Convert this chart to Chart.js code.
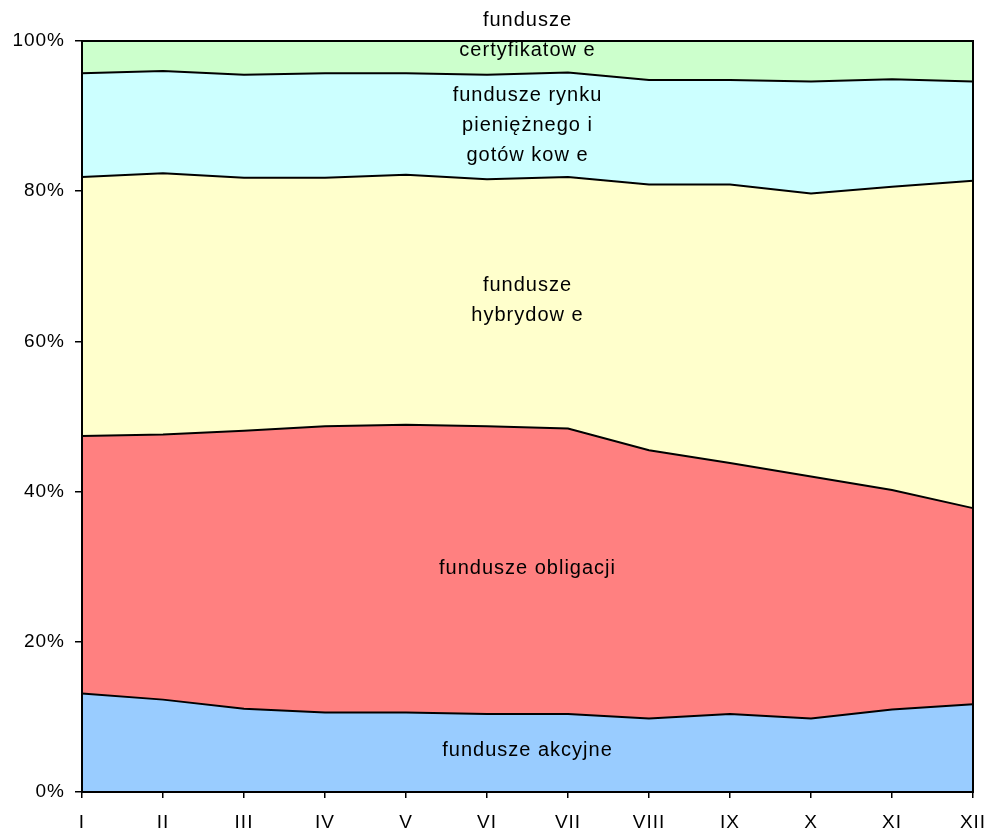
<!DOCTYPE html>
<html>
<head>
<meta charset="utf-8">
<script src="https://cdn.jsdelivr.net/npm/chart.js@4"></script>
<style>
    html, body { margin: 0; padding: 0; background: #fff; }
    #wrap { width: 988px; height: 831px; }
</style>
</head>
<body>
<div id="wrap"><canvas id="fundChart"></canvas></div>
<script>
// months
const months = ['I', 'II', 'III', 'IV', 'V', 'VI', 'VII', 'VIII', 'IX', 'X', 'XI', 'XII'];

// shares of each fund type, % of total
const akcyjne = [13.1, 12.3, 11.1, 10.6, 10.6, 10.4, 10.4, 9.8, 10.4, 9.8, 11.0, 11.7];
const obligacji = [34.3, 35.3, 37.0, 38.1, 38.3, 38.3, 38.0, 35.7, 33.4, 32.2, 29.2, 26.1];
const hybrydowe = [34.5, 34.8, 33.7, 33.1, 33.3, 32.9, 33.5, 35.4, 37.1, 37.7, 40.4, 43.6];
const rynkuPienieznego = [13.8, 13.6, 13.7, 13.9, 13.5, 13.9, 13.9, 13.9, 13.9, 14.9, 14.3, 13.2];
const certyfikatowe = [4.3, 4.0, 4.5, 4.3, 4.3, 4.5, 4.2, 5.2, 5.2, 5.4, 5.1, 5.4];

const yTicks = [0, 20, 40, 60, 80, 100];

const FONT_FAMILY = '"Liberation Sans", Arial, sans-serif';
const LABEL_SIZE = 20;

// in-chart series labels: lines of text and where they sit (category index, percent)
const areaLabels = [
    { lines: ['fundusze akcyjne'], x: 5.5, y: 5.5 },
    { lines: ['fundusze obligacji'], x: 5.5, y: 29.7 },
    { lines: ['fundusze', 'hybrydow e'], x: 5.5, y: 67.5 },
    { lines: ['fundusze rynku', 'pieniężnego i', 'gotów kow e'], x: 5.5, y: 92.7 },
    { lines: ['fundusze', 'certyfikatow e'], x: 5.5, y: 102.7 },
];

function makeSeries(label, values, color, fill) {
    return {
        label: label,
        data: values,
        backgroundColor: color,
        borderColor: '#000',
        borderWidth: 2,
        pointRadius: 0,
        tension: 0,
        fill: fill,
    };
}

const areaLabelsPlugin = {
    id: 'areaLabels',
    beforeDraw(chart) {
        chart.ctx.letterSpacing = '1px';
    },
    afterDatasetsDraw(chart) {
        const { ctx, scales } = chart;
        const area = chart.chartArea;
        // frame round the plot
        ctx.save();
        ctx.strokeStyle = '#000';
        ctx.lineWidth = 2;
        ctx.strokeRect(area.left, area.top, area.right - area.left, area.bottom - area.top);
        ctx.restore();

        ctx.save();
        ctx.letterSpacing = '1px';
        ctx.fillStyle = '#000';
        ctx.font = LABEL_SIZE + 'px ' + FONT_FAMILY;
        ctx.textAlign = 'center';
        ctx.textBaseline = 'middle';
        const lineGap = 30;
        areaLabels.forEach((lbl) => {
            const px = scales.x.getPixelForValue(lbl.x);
            const py = scales.y.getPixelForValue(lbl.y);
            lbl.lines.forEach((line, i) => {
                ctx.fillText(line, px, py + i * lineGap);
            });
        });
        ctx.restore();
    },
};

Chart.defaults.font.family = FONT_FAMILY;
Chart.defaults.font.size = 19;
Chart.defaults.color = '#000';

new Chart(document.getElementById('fundChart').getContext('2d'), {
    type: 'line',
    data: {
        labels: months,
        datasets: [
            makeSeries('fundusze akcyjne', akcyjne, '#99CCFF', 'origin'),
            makeSeries('fundusze obligacji', obligacji, '#FF8080', '-1'),
            makeSeries('fundusze hybrydowe', hybrydowe, '#FFFFCC', '-1'),
            makeSeries('fundusze rynku pieniężnego i gotówkowe', rynkuPienieznego, '#CCFFFF', '-1'),
            makeSeries('fundusze certyfikatowe', certyfikatowe, '#CCFFCC', '-1'),
        ],
    },
    options: {
        responsive: true,
        maintainAspectRatio: false,
        animation: false,
        layout: {
            padding: { top: 41, right: 15, left: 0, bottom: 0 },
        },
        plugins: {
            legend: { display: false },
            tooltip: { enabled: false },
            filler: { drawTime: 'beforeDatasetsDraw' },
        },
        scales: {
            x: {
                offset: false,
                grid: {
                    display: true,
                    drawOnChartArea: false,
                    tickLength: 6,
                    color: '#000',
                    lineWidth: 1.5,
                },
                border: { color: '#000', width: 2 },
                ticks: { padding: 13, maxRotation: 0, autoSkip: false },
                afterFit: (scale) => {
                    scale.height = 39;
                    // let the last label hang over the edge instead of shrinking the plot
                    scale.paddingLeft = 0;
                    scale.paddingRight = 0;
                },
            },
            y: {
                stacked: true,
                min: 0,
                max: 100,
                afterBuildTicks: (scale) => {
                    scale.ticks = yTicks.map((v) => ({ value: v }));
                },
                grid: {
                    display: true,
                    drawOnChartArea: false,
                    tickLength: 7,
                    color: '#000',
                    lineWidth: 1.5,
                },
                border: { color: '#000', width: 2 },
                ticks: {
                    padding: 10,
                    callback: (v) => v + '%',
                },
                afterFit: (scale) => {
                    scale.width = 82;
                    scale.paddingTop = 0;
                    scale.paddingBottom = 0;
                },
            },
        },
    },
    plugins: [areaLabelsPlugin],
});
</script>
</body>
</html>
